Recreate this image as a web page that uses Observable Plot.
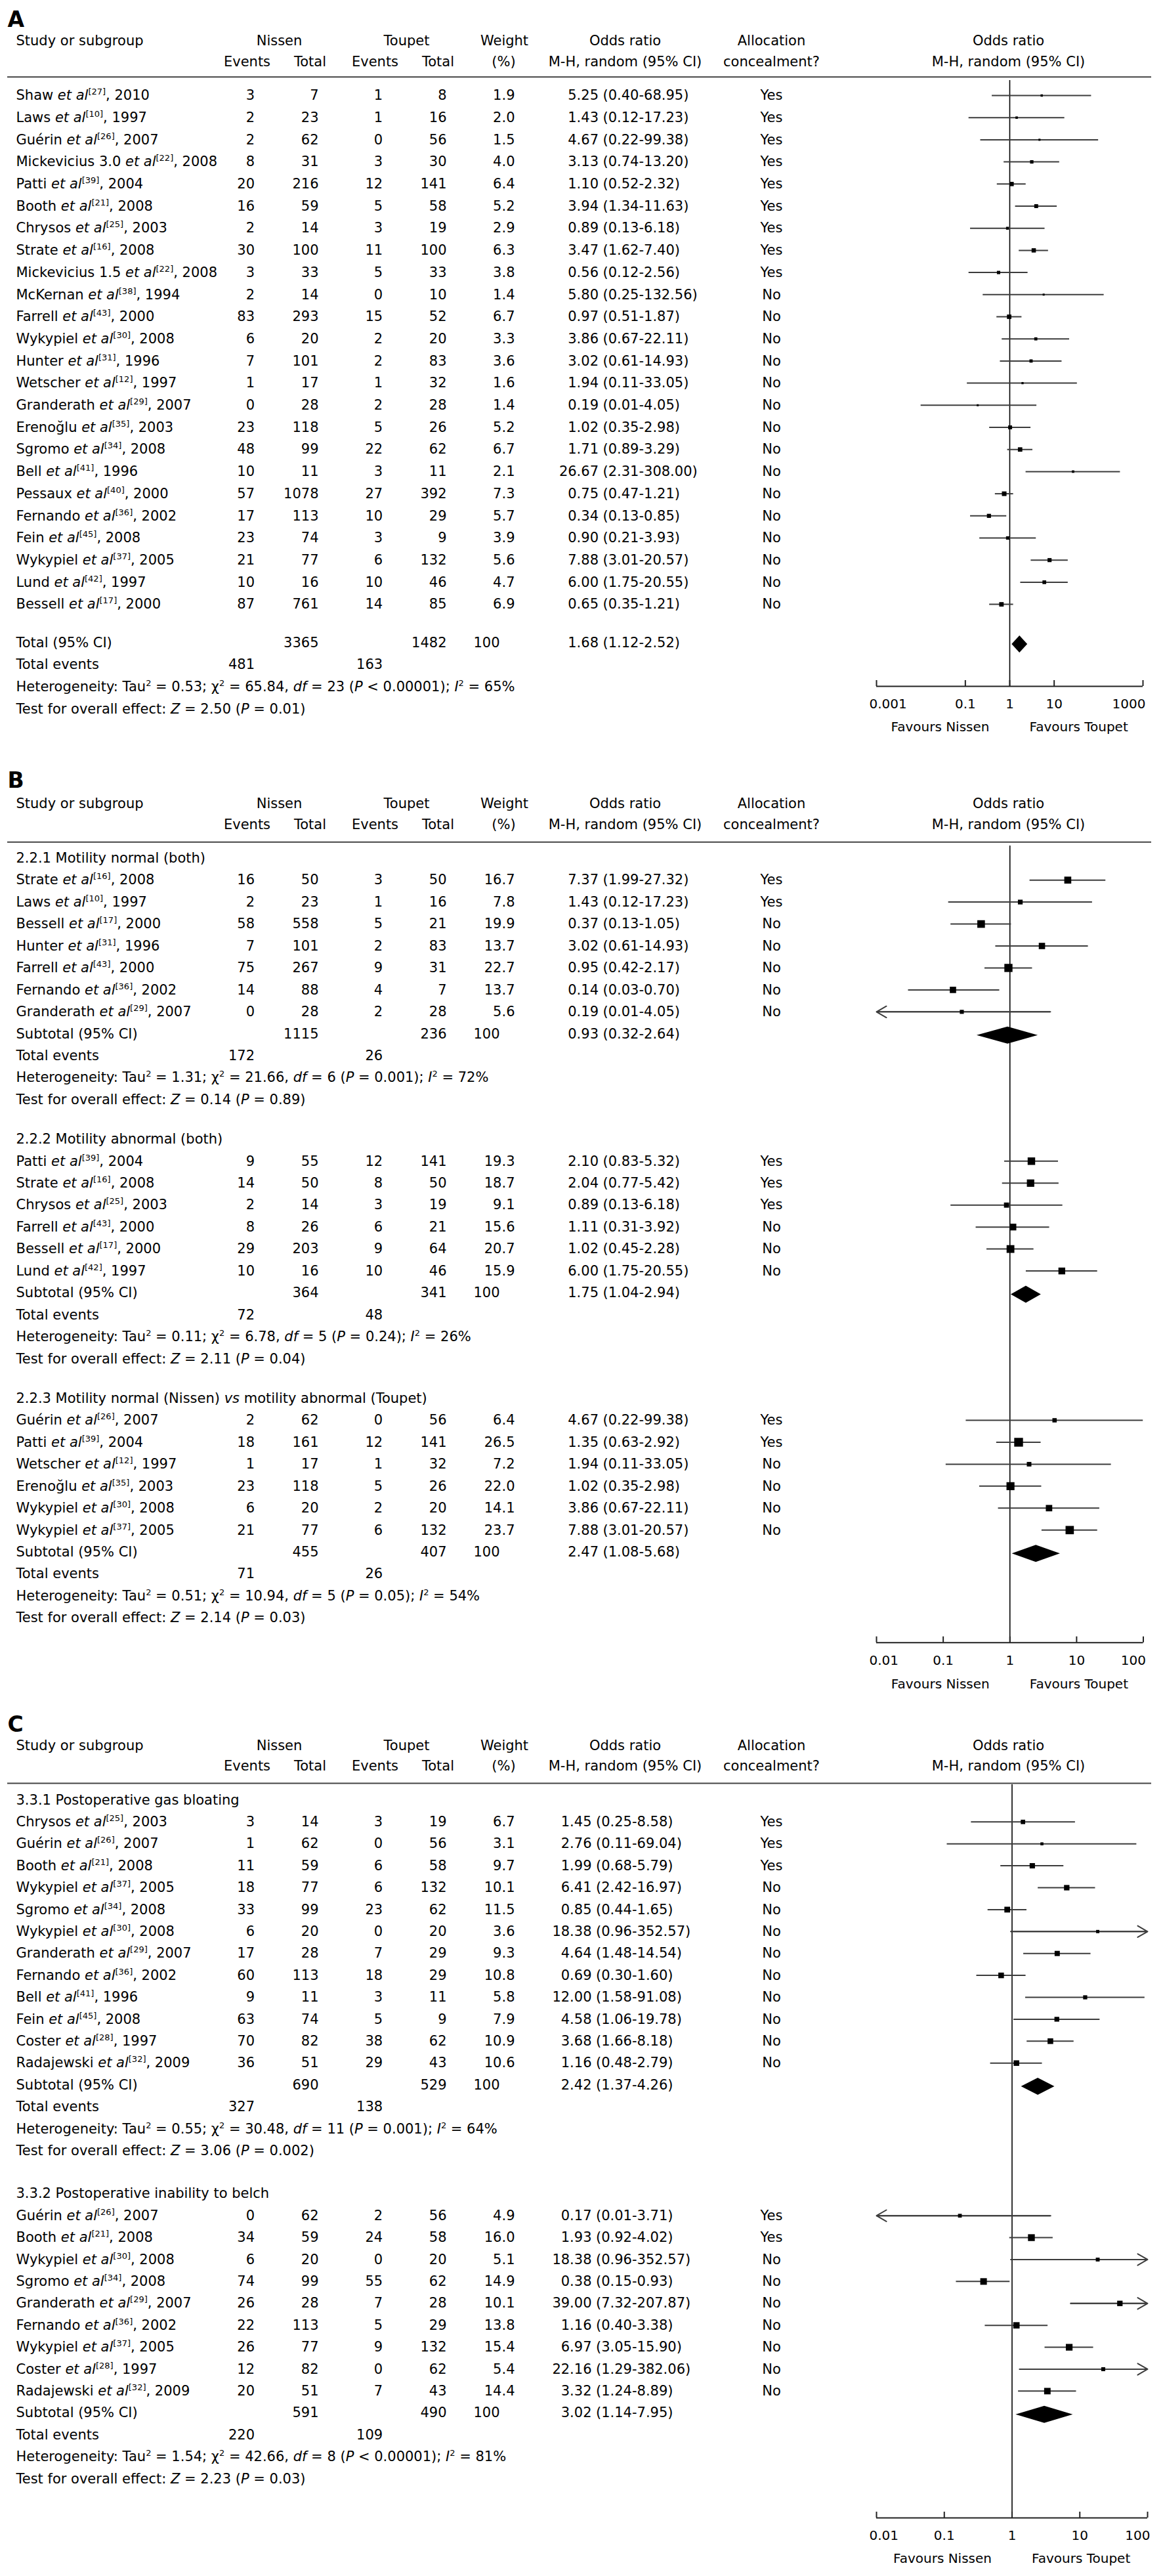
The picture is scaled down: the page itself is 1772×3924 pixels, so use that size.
<!DOCTYPE html>
<html><head><meta charset="utf-8">
<script src="https://cdn.jsdelivr.net/npm/d3@7"></script>
<script src="https://cdn.jsdelivr.net/npm/@observablehq/plot@0.6"></script>
<style>
html,body{margin:0;padding:0;background:#fff;}
#chart{width:1772px;}
#chart svg{display:block;}
</style></head><body><div id="chart"></div>
<script>
// ---------- DATA ----------
// [author, ref, year, nissenEvents, nissenTotal, toupetEvents, toupetTotal, weight, OR, lo, hi, allocation]
const studiesA = [
  ["Shaw",27,2010,3,7,1,8,1.9,5.25,0.40,68.95,"Yes"],
  ["Laws",10,1997,2,23,1,16,2.0,1.43,0.12,17.23,"Yes"],
  ["Guérin",26,2007,2,62,0,56,1.5,4.67,0.22,99.38,"Yes"],
  ["Mickevicius 3.0",22,2008,8,31,3,30,4.0,3.13,0.74,13.20,"Yes"],
  ["Patti",39,2004,20,216,12,141,6.4,1.10,0.52,2.32,"Yes"],
  ["Booth",21,2008,16,59,5,58,5.2,3.94,1.34,11.63,"Yes"],
  ["Chrysos",25,2003,2,14,3,19,2.9,0.89,0.13,6.18,"Yes"],
  ["Strate",16,2008,30,100,11,100,6.3,3.47,1.62,7.40,"Yes"],
  ["Mickevicius 1.5",22,2008,3,33,5,33,3.8,0.56,0.12,2.56,"Yes"],
  ["McKernan",38,1994,2,14,0,10,1.4,5.80,0.25,132.56,"No"],
  ["Farrell",43,2000,83,293,15,52,6.7,0.97,0.51,1.87,"No"],
  ["Wykypiel",30,2008,6,20,2,20,3.3,3.86,0.67,22.11,"No"],
  ["Hunter",31,1996,7,101,2,83,3.6,3.02,0.61,14.93,"No"],
  ["Wetscher",12,1997,1,17,1,32,1.6,1.94,0.11,33.05,"No"],
  ["Granderath",29,2007,0,28,2,28,1.4,0.19,0.01,4.05,"No"],
  ["Erenoğlu",35,2003,23,118,5,26,5.2,1.02,0.35,2.98,"No"],
  ["Sgromo",34,2008,48,99,22,62,6.7,1.71,0.89,3.29,"No"],
  ["Bell",41,1996,10,11,3,11,2.1,26.67,2.31,308.00,"No"],
  ["Pessaux",40,2000,57,1078,27,392,7.3,0.75,0.47,1.21,"No"],
  ["Fernando",36,2002,17,113,10,29,5.7,0.34,0.13,0.85,"No"],
  ["Fein",45,2008,23,74,3,9,3.9,0.90,0.21,3.93,"No"],
  ["Wykypiel",37,2005,21,77,6,132,5.6,7.88,3.01,20.57,"No"],
  ["Lund",42,1997,10,16,10,46,4.7,6.00,1.75,20.55,"No"],
  ["Bessell",17,2000,87,761,14,85,6.9,0.65,0.35,1.21,"No"]
];
const studiesB1 = [
  ["Strate",16,2008,16,50,3,50,16.7,7.37,1.99,27.32,"Yes"],
  ["Laws",10,1997,2,23,1,16,7.8,1.43,0.12,17.23,"Yes"],
  ["Bessell",17,2000,58,558,5,21,19.9,0.37,0.13,1.05,"No"],
  ["Hunter",31,1996,7,101,2,83,13.7,3.02,0.61,14.93,"No"],
  ["Farrell",43,2000,75,267,9,31,22.7,0.95,0.42,2.17,"No"],
  ["Fernando",36,2002,14,88,4,7,13.7,0.14,0.03,0.70,"No"],
  ["Granderath",29,2007,0,28,2,28,5.6,0.19,0.01,4.05,"No"]
];
const studiesB2 = [
  ["Patti",39,2004,9,55,12,141,19.3,2.10,0.83,5.32,"Yes"],
  ["Strate",16,2008,14,50,8,50,18.7,2.04,0.77,5.42,"Yes"],
  ["Chrysos",25,2003,2,14,3,19,9.1,0.89,0.13,6.18,"Yes"],
  ["Farrell",43,2000,8,26,6,21,15.6,1.11,0.31,3.92,"No"],
  ["Bessell",17,2000,29,203,9,64,20.7,1.02,0.45,2.28,"No"],
  ["Lund",42,1997,10,16,10,46,15.9,6.00,1.75,20.55,"No"]
];
const studiesB3 = [
  ["Guérin",26,2007,2,62,0,56,6.4,4.67,0.22,99.38,"Yes"],
  ["Patti",39,2004,18,161,12,141,26.5,1.35,0.63,2.92,"Yes"],
  ["Wetscher",12,1997,1,17,1,32,7.2,1.94,0.11,33.05,"No"],
  ["Erenoğlu",35,2003,23,118,5,26,22.0,1.02,0.35,2.98,"No"],
  ["Wykypiel",30,2008,6,20,2,20,14.1,3.86,0.67,22.11,"No"],
  ["Wykypiel",37,2005,21,77,6,132,23.7,7.88,3.01,20.57,"No"]
];
const studiesC1 = [
  ["Chrysos",25,2003,3,14,3,19,6.7,1.45,0.25,8.58,"Yes"],
  ["Guérin",26,2007,1,62,0,56,3.1,2.76,0.11,69.04,"Yes"],
  ["Booth",21,2008,11,59,6,58,9.7,1.99,0.68,5.79,"Yes"],
  ["Wykypiel",37,2005,18,77,6,132,10.1,6.41,2.42,16.97,"No"],
  ["Sgromo",34,2008,33,99,23,62,11.5,0.85,0.44,1.65,"No"],
  ["Wykypiel",30,2008,6,20,0,20,3.6,18.38,0.96,352.57,"No"],
  ["Granderath",29,2007,17,28,7,29,9.3,4.64,1.48,14.54,"No"],
  ["Fernando",36,2002,60,113,18,29,10.8,0.69,0.30,1.60,"No"],
  ["Bell",41,1996,9,11,3,11,5.8,12.00,1.58,91.08,"No"],
  ["Fein",45,2008,63,74,5,9,7.9,4.58,1.06,19.78,"No"],
  ["Coster",28,1997,70,82,38,62,10.9,3.68,1.66,8.18,"No"],
  ["Radajewski",32,2009,36,51,29,43,10.6,1.16,0.48,2.79,"No"]
];
const studiesC2 = [
  ["Guérin",26,2007,0,62,2,56,4.9,0.17,0.01,3.71,"Yes"],
  ["Booth",21,2008,34,59,24,58,16.0,1.93,0.92,4.02,"Yes"],
  ["Wykypiel",30,2008,6,20,0,20,5.1,18.38,0.96,352.57,"No"],
  ["Sgromo",34,2008,74,99,55,62,14.9,0.38,0.15,0.93,"No"],
  ["Granderath",29,2007,26,28,7,28,10.1,39.00,7.32,207.87,"No"],
  ["Fernando",36,2002,22,113,5,29,13.8,1.16,0.40,3.38,"No"],
  ["Wykypiel",37,2005,26,77,9,132,15.4,6.97,3.05,15.90,"No"],
  ["Coster",28,1997,12,82,0,62,5.4,22.16,1.29,382.06,"No"],
  ["Radajewski",32,2009,20,51,7,43,14.4,3.32,1.24,8.89,"No"]
];
// pooled: [label, nissenTotal, toupetTotal, OR, lo, hi, nissenEvents, toupetEvents]
const pooledA  = ["Total (95% CI)",3365,1482,1.68,1.12,2.52,481,163];
const pooledB1 = ["Subtotal (95% CI)",1115,236,0.93,0.32,2.64,172,26];
const pooledB2 = ["Subtotal (95% CI)",364,341,1.75,1.04,2.94,72,48];
const pooledB3 = ["Subtotal (95% CI)",455,407,2.47,1.08,5.68,71,26];
const pooledC1 = ["Subtotal (95% CI)",690,529,2.42,1.37,4.26,327,138];
const pooledC2 = ["Subtotal (95% CI)",591,490,3.02,1.14,7.95,220,109];
// heterogeneity: [tau2, chi2, df, P, I2], overall effect: [Z, P]
const hetA  = ["0.53","65.84",23,"< 0.00001",65], testA  = ["2.50","= 0.01"];
const hetB1 = ["1.31","21.66",6,"= 0.001",72],    testB1 = ["0.14","= 0.89"];
const hetB2 = ["0.11","6.78",5,"= 0.24",26],      testB2 = ["2.11","= 0.04"];
const hetB3 = ["0.51","10.94",5,"= 0.05",54],     testB3 = ["2.14","= 0.03"];
const hetC1 = ["0.55","30.48",11,"= 0.001",64],   testC1 = ["3.06","= 0.002"];
const hetC2 = ["1.54","42.66",8,"< 0.00001",81],  testC2 = ["2.23","= 0.03"];
const headingsB = ["2.2.1 Motility normal (both)","2.2.2 Motility abnormal (both)","2.2.3 Motility normal (Nissen) _vs_ motility abnormal (Toupet)"];
const headingsC = ["3.3.1 Postoperative gas bloating","3.3.2 Postoperative inability to belch"];
const ticksA = [0.001, 0.1, 1, 10, 1000];
const ticksBC = [0.01, 0.1, 1, 10, 100];

// ---------- STYLE / LAYOUT ----------
const FONT = "'DejaVu Sans', Verdana, sans-serif";
const FS = 21, AXFS = 20, SUPFS = 13;
const INK = "#000";
const COL = {name: 24, nE: 387.5, nT: 485, tE: 582.7, tT: 680, w: 784, w100: 761, alloc: 1175, orHead: 952, forestHead: 1536};

function buildRows(sections, {gapBeforePooled = 0, gapBetween = 0}) {
  const rows = []; let s = 0;
  const f2 = v => v.toFixed(2);
  sections.forEach((sec, k) => {
    if (k > 0) s += gapBetween;
    if (sec.heading) { rows.push({kind: "heading", c_name: sec.heading, slot: s}); s += 1; }
    for (const r of sec.studies) {
      const [author, ref, year, nE, nT, tE, tT, w, or, lo, hi, alloc] = r;
      rows.push({kind: "study", slot: s, or, lo, hi, w,
        c_name: `${author} _et al_^[${ref}]^, ${year}`,
        c_nE: String(nE), c_nT: String(nT), c_tE: String(tE), c_tT: String(tT),
        c_w: w.toFixed(1), c_est: f2(or), c_ci: `(${f2(lo)}-${f2(hi)})`, c_alloc: alloc});
      s += 1;
    }
    s += gapBeforePooled;
    const [lab, nT, tT, or, lo, hi, nE, tE] = sec.pooled;
    rows.push({kind: "pooled", slot: s, or, lo, hi, c_name: lab, c_nT: String(nT), c_tT: String(tT),
      c_w100: "100", c_est: f2(or), c_ci: `(${f2(lo)}-${f2(hi)})`}); s += 1;
    rows.push({kind: "events", slot: s, c_name: "Total events", c_nE: String(nE), c_tE: String(tE)}); s += 1;
    const [tau, chi, df, p, i2] = sec.het;
    rows.push({kind: "het", slot: s, c_name: `Heterogeneity: Tau^2^ = ${tau}; χ^2^ = ${chi}, _df_ = ${df} (_P_ ${p}); _I_^2^ = ${i2}%`}); s += 1;
    const [z, pz] = sec.test;
    rows.push({kind: "test", slot: s, c_name: `Test for overall effect: _Z_ = ${z} (_P_ ${pz})`}); s += 1;
  });
  return rows;
}

function panel(cfg, rows) {
  const sl = px => (px - cfg.c0) / cfg.pitch;
  const mid = (base, fs) => sl(base - 0.32 * fs);
  const [xmin, xmax] = cfg.domain;
  const studies = rows.filter(r => r.kind === "study");
  const pooled = rows.filter(r => r.kind === "pooled");
  const T = (data, o) => Plot.text(data, {frameAnchor: "left", fontSize: FS, fill: INK, ...o});
  const label = (text, x, base, anchor = "middle", extra = {}) =>
    T([text], {text: d => d, y: () => mid(base, extra.fontSize ?? FS), dx: x, textAnchor: anchor, ...extra});
  const col = (key, x, anchor) => T(rows.filter(r => r[key] != null), {y: "slot", text: key, dx: x, textAnchor: anchor});
  const dh = 13 / cfg.pitch, doff = 2.5 / cfg.pitch;
  const diamonds = pooled.flatMap((p, i) => [
    {id: i, y: p.slot + doff - dh, x1: p.or, x2: p.or},
    {id: i, y: p.slot + doff, x1: p.lo, x2: p.hi},
    {id: i, y: p.slot + doff + dh, x1: p.or, x2: p.or}
  ]);
  const tk = cfg.ticks;
  const axY = sl(cfg.axisY);
  const marks = [
    label(cfg.letter, 11, cfg.letterBase, "start", {fontSize: 33, fontWeight: "bold"}),
    label("Study or subgroup", COL.name, cfg.h1, "start"),
    label("Nissen", 425, cfg.h1), label("Toupet", 619, cfg.h1), label("Weight", 768, cfg.h1),
    label("Odds ratio", COL.orHead, cfg.h1), label("Allocation", COL.alloc, cfg.h1), label("Odds ratio", COL.forestHead, cfg.h1),
    label("Events", 376, cfg.h2), label("Total", 472, cfg.h2), label("Events", 571, cfg.h2), label("Total", 667, cfg.h2),
    label("(%)", 767, cfg.h2), label("M-H, random (95% CI)", COL.orHead, cfg.h2), label("concealment?", COL.alloc, cfg.h2),
    label("M-H, random (95% CI)", COL.forestHead, cfg.h2),
    Plot.ruleY([sl(cfg.lineY)], {insetLeft: 11, insetRight: 18, stroke: "#444", strokeWidth: 2}),
    col("c_name", COL.name, "start"),
    col("c_nE", COL.nE, "end"), col("c_nT", COL.nT, "end"),
    col("c_tE", COL.tE, "end"), col("c_tT", COL.tT, "end"),
    col("c_w", COL.w, "end"), col("c_w100", COL.w100, "end"),
    col("c_est", cfg.estRight, "end"), col("c_ci", cfg.estRight + 6.5, "start"),
    col("c_alloc", COL.alloc, "middle"),
    // forest
    Plot.ruleX([1], {y1: () => sl(cfg.vTop), y2: () => axY, stroke: INK, strokeWidth: 1.6}),
    Plot.ruleY(studies, {y: "slot", x1: d => Math.max(d.lo, xmin), x2: d => Math.min(d.hi, xmax), stroke: "#3c3c3c", strokeWidth: 2}),
    Plot.arrow(studies.filter(d => d.hi > xmax), {x1: d => Math.max(d.lo, xmin), x2: () => xmax, y1: "slot", y2: "slot", stroke: "#3c3c3c", strokeWidth: 2, headLength: 13}),
    Plot.arrow(studies.filter(d => d.lo <= xmin), {x1: d => Math.min(d.hi, xmax), x2: () => xmin, y1: "slot", y2: "slot", stroke: "#3c3c3c", strokeWidth: 2, headLength: 13}),
    Plot.dot(studies, {x: "or", y: "slot", r: "w", symbol: "square", fill: INK, stroke: "none"}),
    Plot.areaX(diamonds, {y: "y", x1: "x1", x2: "x2", z: "id", fill: INK, curve: "linear"}),
    // axis
    Plot.ruleY([axY], {x1: () => xmin, x2: () => xmax, stroke: "#222", strokeWidth: 2}),
    Plot.ruleX(tk, {x: d => d, y1: () => sl(cfg.axisY - 9), y2: () => axY, stroke: "#222", strokeWidth: 2}),
    Plot.text(tk.slice(0, 1), {x: d => d, y: () => mid(cfg.tickBase, AXFS), text: d => String(d), textAnchor: "start", dx: -11, fontSize: AXFS, fill: INK}),
    Plot.text(tk.slice(1, -1), {x: d => d, y: () => mid(cfg.tickBase, AXFS), text: d => String(d), textAnchor: "middle", fontSize: AXFS, fill: INK}),
    Plot.text(tk.slice(-1), {x: d => d, y: () => mid(cfg.tickBase, AXFS), text: d => String(d), textAnchor: "end", dx: 4, fontSize: AXFS, fill: INK}),
    Plot.text(["Favours Nissen"], {x: () => 1, y: () => mid(cfg.favBase, AXFS), text: d => d, textAnchor: "end", dx: -31, fontSize: AXFS, fill: INK}),
    Plot.text(["Favours Toupet"], {x: () => 1, y: () => mid(cfg.favBase, AXFS), text: d => d, textAnchor: "start", dx: 30, fontSize: AXFS, fill: INK})
  ];
  return Plot.plot({
    width: 1772, height: cfg.height, margin: 0,
    x: {type: "log", domain: cfg.domain, range: cfg.range, axis: null},
    y: {type: "linear", domain: [0, 1], range: [cfg.c0, cfg.c0 + cfg.pitch], axis: null},
    r: {type: "sqrt", domain: [0, 100], range: [0, 14.67]},
    style: {fontFamily: FONT, color: INK, background: "#fff", overflow: "visible"},
    marks
  });
}

function richify(svg) {
  const NS = "http://www.w3.org/2000/svg";
  svg.querySelectorAll("text").forEach(t => {
    const s = t.textContent;
    if (!/[_^]/.test(s)) return;
    t.textContent = "";
    let it = false, sup = false, buf = "", pend = 0;
    const flush = () => {
      if (!buf) return;
      const ts = document.createElementNS(NS, "tspan");
      ts.textContent = buf;
      if (it) ts.setAttribute("font-style", "italic");
      if (sup) ts.setAttribute("font-size", SUPFS);
      if (pend) { ts.setAttribute("dy", pend); pend = 0; }
      t.appendChild(ts); buf = "";
    };
    for (const ch of s) {
      if (ch === "_") { flush(); it = !it; }
      else if (ch === "^") { flush(); sup = !sup; pend += sup ? -8 : 8; }
      else buf += ch;
    }
    flush();
  });
}

const cfgA = {letter: "A", height: 1150, c0: 145, pitch: 33.7, letterBase: 40, h1: 68.3, h2: 100, lineY: 116.7, vTop: 122,
  axisY: 1045, tickBase: 1078, favBase: 1113, domain: [0.001, 1000], range: [1335, 1741], ticks: ticksA, estRight: 911.5};
const cfgB = {letter: "B", height: 1440, c0: 156.7, pitch: 33.45, letterBase: 49, h1: 80, h2: 112.7, lineY: 132.3, vTop: 138,
  axisY: 1351.7, tickBase: 1385, favBase: 1421.7, domain: [0.01, 100], range: [1335, 1741.5], ticks: ticksBC, estRight: 911.5};
const cfgC = {letter: "C", height: 1334, c0: 151.4, pitch: 33.4, letterBase: 47, h1: 75, h2: 106.7, lineY: 126, vTop: 128,
  axisY: 1245, tickBase: 1278.3, favBase: 1313.3, domain: [0.01, 100], range: [1335, 1748], ticks: ticksBC, estRight: 901};

const rowsA = buildRows([{studies: studiesA, pooled: pooledA, het: hetA, test: testA}], {gapBeforePooled: 0.73});
const rowsB = buildRows([
  {heading: headingsB[0], studies: studiesB1, pooled: pooledB1, het: hetB1, test: testB1},
  {heading: headingsB[1], studies: studiesB2, pooled: pooledB2, het: hetB2, test: testB2},
  {heading: headingsB[2], studies: studiesB3, pooled: pooledB3, het: hetB3, test: testB3}
], {gapBetween: 0.8});
const rowsC = buildRows([
  {heading: headingsC[0], studies: studiesC1, pooled: pooledC1, het: hetC1, test: testC1},
  {heading: headingsC[1], studies: studiesC2, pooled: pooledC2, het: hetC2, test: testC2}
], {gapBetween: 0.96});

const chart = document.getElementById("chart");
for (const [cfg, rows] of [[cfgA, rowsA], [cfgB, rowsB], [cfgC, rowsC]]) {
  const svg = panel(cfg, rows);
  richify(svg);
  chart.appendChild(svg);
}
</script></body></html>
